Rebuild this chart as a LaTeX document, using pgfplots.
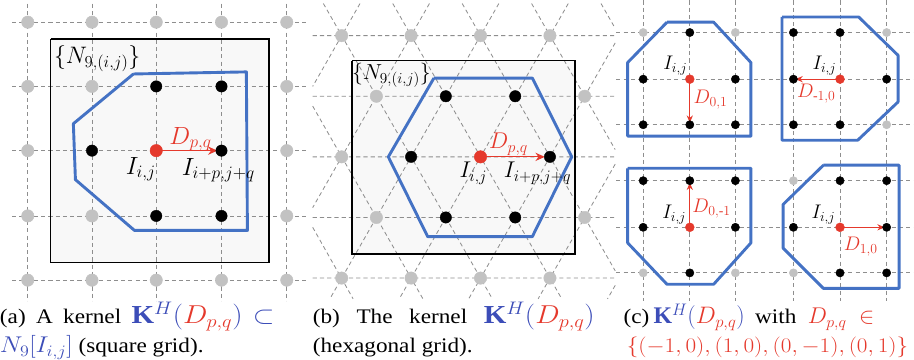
\RequirePackage{fix-cm}
\documentclass[border=0pt]{standalone}
\usepackage{pgfplots}
\pgfplotsset{compat=1.18}
\usepackage{amsmath}
\usepackage{graphicx}
\usepackage{fontspec}
\setmainfont{Liberation Serif}
\usetikzlibrary{arrows.meta}
\definecolor{kblue}{HTML}{4472C4}
\definecolor{kred}{HTML}{E5392C}
\definecolor{gpt}{HTML}{C2C2C2}
\definecolor{gline}{HTML}{8E8E8E}
\definecolor{capblue}{HTML}{3C4DB8}
\definecolor{boxfill}{HTML}{F8F8F8}
\newcommand\capfont{\fontsize{20}{24}\selectfont}
\newcommand\KH[1][25]{{\fontsize{#1}{#1}\selectfont$\color{capblue}\mathbf{K}^{H}(\textcolor{kred}{D_{p,q}})$}}
\begin{document}
\begin{tikzpicture}
\begin{axis}[scale only axis, width=914pt, height=347pt,
  xmin=0, xmax=914, ymin=0, ymax=347, y dir=reverse,
  hide axis, clip=false, unbounded coords=jump,
  grid line/.style={gline, line width=0.8pt, dash pattern=on 4pt off 3pt},
  kern/.style={kblue, line width=2.8pt, line join=round},
  gdot/.style={only marks, mark=*, mark size=6pt, gpt, mark options={draw=gpt, fill=gpt}},
  bdot/.style={only marks, mark=*, mark size=5.5pt, black},
  rdot/.style={only marks, mark=*, mark size=6pt, kred, mark options={draw=kred, fill=kred}},
  gdotc/.style={only marks, mark=*, mark size=4pt, gpt, mark options={draw=gpt, fill=gpt}},
  bdotc/.style={only marks, mark=*, mark size=4pt, black},
  rdotc/.style={only marks, mark=*, mark size=4.3pt, kred, mark options={draw=kred, fill=kred}},
]
% ---------- panel (a) ----------
\addplot[fill=boxfill, draw=none] coordinates {(52,37) (263,37) (263,253) (52,253) (52,37)};
\addplot[grid line] coordinates {
 (30,3) (30,290) (nan,nan) (92,3) (92,290) (nan,nan) (154,3) (154,290) (nan,nan)
 (217,3) (217,290) (nan,nan) (280,3) (280,290) (nan,nan)
 (15,21) (300,21) (nan,nan) (15,83) (300,83) (nan,nan) (15,145) (300,145) (nan,nan)
 (15,208) (300,208) (nan,nan) (15,270) (300,270)};
\addplot[black, line width=1.6pt] coordinates {(52,37) (263,37) (263,253) (52,253) (52,37)};
\addplot[kern] coordinates {(132,71) (241,69) (242,222) (133,222) (76,173) (74,119) (132,71)};
\addplot[gdot] coordinates {(30,21) (92,21) (154,21) (217,21) (280,21)
 (30,83) (92,83) (280,83) (30,145) (280,145) (30,208) (92,208) (280,208)
 (30,270) (92,270) (154,270) (217,270) (280,270)};
\addplot[bdot] coordinates {(154,83) (217,83) (92,145) (217,145) (154,208) (217,208)};
\addplot[kred, line width=1.1pt, -{Stealth[length=9pt,width=8pt]}] coordinates {(154,145) (213,145)};
\addplot[rdot] coordinates {(154,145)};
\node[font=\fontsize{23}{24}\selectfont] at (axis cs:97,56) {$\{N_{9,(i,j)}\}$};
\node[font=\fontsize{24}{24}\selectfont] at (axis cs:139,163) {$I_{i,j}$};
\node[font=\fontsize{24}{24}\selectfont] at (axis cs:214,164) {$I_{i+p,j+q}$};
\node[font=\fontsize{24}{24}\selectfont, text=kred] at (axis cs:187,134) {$D_{p,q}$};
% ---------- panel (b) ----------
\addplot[fill=boxfill, draw=none] coordinates {(343,58) (558,58) (558,245) (343,245) (343,58)};
\addplot[grid line] coordinates {
 (305,34) (597,34) (nan,nan) (305,92.5) (597,92.5) (nan,nan) (305,151) (597,151) (nan,nan)
 (305,209.5) (597,209.5) (nan,nan) (305,268) (597,268) (nan,nan)
 (305,219) (344,288) (nan,nan) (305,102) (411.4,288) (nan,nan) (315.3,3) (478.4,288) (nan,nan)
 (382.3,3) (545.4,288) (nan,nan) (449.3,3) (597,261) (nan,nan) (516.3,3) (597,144) (nan,nan)
 (583.3,3) (597,27) (nan,nan)
 (350.7,3) (305,83) (nan,nan) (417.7,3) (305,200) (nan,nan) (484.7,3) (321.6,288) (nan,nan)
 (551.7,3) (388.6,288) (nan,nan) (597,41) (455.6,288) (nan,nan) (597,158) (522.6,288) (nan,nan)
 (597,275) (589.6,288)};
\addplot[black, line width=1.6pt] coordinates {(343,58) (558,58) (558,245) (343,245) (343,58)};
\addplot[kern] coordinates {(422,75) (517,75) (555,151) (517,228) (416,228) (378,151) (422,75)};
\addplot[gdot] coordinates {(333,34) (400,34) (467,34) (534,34)
 (366.5,92.5) (567.5,92.5) (333,151) (366.5,209.5) (567.5,209.5)
 (333,268) (400,268) (467,268) (534,268)};
\addplot[bdot] coordinates {(433.5,92.5) (500.5,92.5) (400,151) (534,151) (433.5,209.5) (500.5,209.5)};
\addplot[kred, line width=1.1pt, -{Stealth[length=9pt,width=8pt]}] coordinates {(467,151) (529,151)};
\addplot[rdot] coordinates {(467,151)};
\node[font=\fontsize{21}{22}\selectfont] at (axis cs:381,72) {$\{N_{9,(i,j)}\}$};
\node[font=\fontsize{22}{22}\selectfont] at (axis cs:460,167) {$I_{i,j}$};
\node[font=\fontsize{22}{22}\selectfont] at (axis cs:522,167) {$I_{i+p,j+q}$};
\node[font=\fontsize{22}{22}\selectfont, text=kred] at (axis cs:494,139) {$D_{p,q}$};
% ---------- panel (c) ----------
\addplot[grid line] coordinates {
 (624,0) (624,290) (nan,nan) (669,0) (669,290) (nan,nan) (713,0) (713,290) (nan,nan)
 (769,0) (769,290) (nan,nan) (814,0) (814,290) (nan,nan) (859,0) (859,290) (nan,nan)
 (598,31) (885,31) (nan,nan) (598,76) (885,76) (nan,nan) (598,120) (885,120) (nan,nan)
 (598,174) (885,174) (nan,nan) (598,219) (885,219) (nan,nan) (598,263) (885,263)};
\addplot[kern] coordinates {(647,21) (692,21) (728,60) (728,131) (609,131) (609,60) (647,21)};
\addplot[kern] coordinates {(758,16) (832,16) (870,53) (870,98) (831,135) (758,135) (758,16)};
\addplot[kern] coordinates {(609,162) (728,162) (728,234) (692,274) (647,274) (609,234) (609,162)};
\addplot[kern] coordinates {(798,159) (871,159) (871,278) (798,278) (759,239) (759,197) (798,159)};
\addplot[gdotc] coordinates {(624,31) (713,31) (859,31) (859,120) (624,263) (713,263) (769,174) (769,263)};
\addplot[bdotc] coordinates {(669,31) (624,76) (713,76) (624,120) (669,120) (713,120)
 (769,31) (814,31) (769,76) (859,76) (769,120) (814,120)
 (624,174) (669,174) (713,174) (624,219) (713,219) (669,263)
 (814,174) (859,174) (769,219) (859,219) (814,263) (859,263)};
\addplot[kred, line width=1pt, -{Stealth[length=7pt,width=6pt]}] coordinates {(669,76) (669,118)};
\addplot[kred, line width=1pt, -{Stealth[length=7pt,width=6pt]}] coordinates {(814,76) (771,76)};
\addplot[kred, line width=1pt, -{Stealth[length=7pt,width=6pt]}] coordinates {(669,219) (669,176)};
\addplot[kred, line width=1pt, -{Stealth[length=7pt,width=6pt]}] coordinates {(814,219) (857,219)};
\addplot[rdotc] coordinates {(669,76) (814,76) (669,219) (814,219)};
\node[font=\fontsize{19}{20}\selectfont] at (axis cs:655,63) {$I_{i,j}$};
\node[font=\fontsize{19}{20}\selectfont] at (axis cs:799,63) {$I_{i,j}$};
\node[font=\fontsize{19}{20}\selectfont] at (axis cs:654,207) {$I_{i,j}$};
\node[font=\fontsize{19}{20}\selectfont] at (axis cs:798,207) {$I_{i,j}$};
\node[font=\fontsize{19}{20}\selectfont, text=kred] at (axis cs:689,96) {$D_{0,1}$};
\node[font=\fontsize{19}{20}\selectfont, text=kred] at (axis cs:791,90) {$D_{\text{-}1,0}$};
\node[font=\fontsize{19}{20}\selectfont, text=kred] at (axis cs:690,201) {$D_{0,\text{-}1}$};
\node[font=\fontsize{19}{20}\selectfont, text=kred] at (axis cs:834,238) {$D_{1,0}$};
% ---------- captions ----------
\node[anchor=base west, inner sep=0pt] at (axis cs:3,312) {\scalebox{1.12}[1]{\capfont\makebox[236.6pt][s]{(a) A kernel \KH{} {\fontsize{24}{24}\selectfont$\color{capblue}\subset$}}}};
\node[anchor=base west, inner sep=0pt] at (axis cs:3,340) {\scalebox{1.12}[1]{\capfont {\fontsize{22}{22}\selectfont$\color{capblue}N_9[I_{i,j}]$} (square grid).}};
\node[anchor=base west, inner sep=0pt] at (axis cs:305,312) {\scalebox{1.12}[1]{\capfont\makebox[242.9pt][s]{(b) The kernel \KH}}};
\node[anchor=base west, inner sep=0pt] at (axis cs:305,340) {\scalebox{1.12}[1]{\capfont (hexagonal grid).}};
\node[anchor=base west, inner sep=0pt] at (axis cs:605,312) {\capfont\scalebox{1.12}[1]{(c)}\hspace{4pt}\KH[23]\hspace{10pt}\scalebox{1.12}[1]{with}\hspace{11pt}{\fontsize{22}{22}\selectfont$\color{kred}D_{p,q}$}\hspace{12pt}{\fontsize{22}{22}\selectfont$\color{kred}\in$}};
\node[anchor=base west, inner sep=0pt] at (axis cs:608,340) {\scalebox{1.12}[1]{\capfont $\color{kred}\{(-1,0),(1,0),(0,-1),(0,1)\}$}};
\end{axis}
\end{tikzpicture}
\end{document}
